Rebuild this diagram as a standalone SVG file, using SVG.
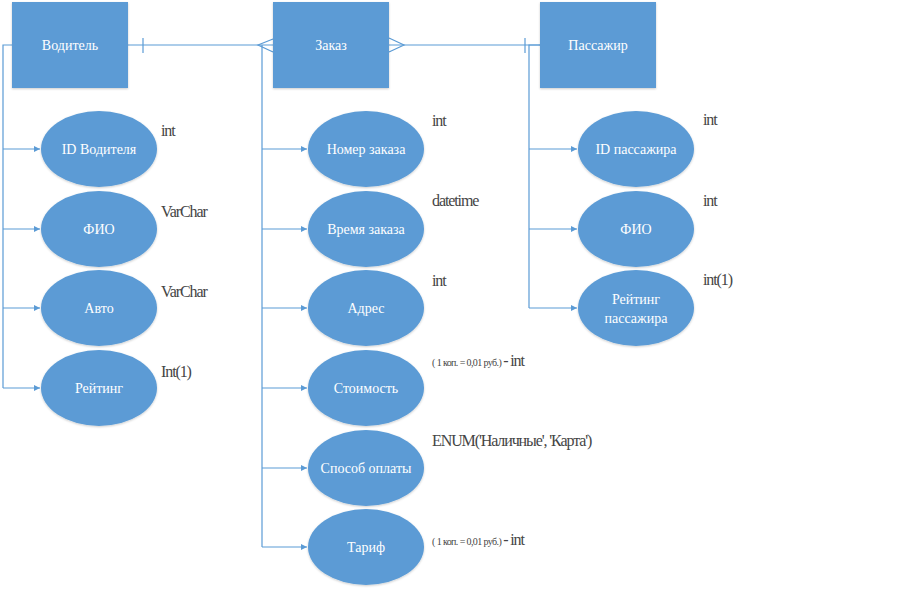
<svg xmlns="http://www.w3.org/2000/svg" width="900" height="593" viewBox="0 0 900 593">
<style>
.ent{fill:#5B9BD5;}
.att{fill:#5B9BD5;}
.lbl{font-family:'Liberation Serif','Times New Roman',serif;font-size:14px;fill:#ffffff;text-anchor:middle;dominant-baseline:central;}
.typ{font-family:'Liberation Serif','Times New Roman',serif;font-size:16px;fill:#454545;letter-spacing:-1.1px;}
.sm{font-size:10px;letter-spacing:-0.6px;}
.ln{stroke:#5B9BD5;stroke-width:1.2;fill:none;}
</style>
<defs>
<marker id="arr" viewBox="0 0 10 10" refX="10" refY="5" markerWidth="6" markerHeight="6" orient="auto" markerUnits="userSpaceOnUse">
<path d="M0,0 L10,5 L0,10 z" fill="#5B9BD5"/>
</marker>
<filter id="sh" x="-10%" y="-10%" width="120%" height="125%">
<feDropShadow dx="0" dy="1" stdDeviation="1.2" flood-color="#000" flood-opacity="0.2"/>
</filter>
</defs>
<rect width="900" height="593" fill="#ffffff"/>

<g id="connectors">
<path class="ln" d="M128,45 H273"/>
<path class="ln" d="M143,38 V53"/>
<path class="ln" d="M273,39 L258,45 L273,52"/>
<path class="ln" d="M389,45 H540"/>
<path class="ln" d="M389,38 L404,45 L389,52"/>
<path class="ln" d="M525,38 V53"/>
<path class="ln" d="M12,45 H3 V388"/>
<path class="ln" d="M3,149 H40" marker-end="url(#arr)"/>
<path class="ln" d="M3,229 H40" marker-end="url(#arr)"/>
<path class="ln" d="M3,308 H40" marker-end="url(#arr)"/>
<path class="ln" d="M3,388 H40" marker-end="url(#arr)"/>
<path class="ln" d="M262,45 V547"/>
<path class="ln" d="M262,149 H307" marker-end="url(#arr)"/>
<path class="ln" d="M262,229 H307" marker-end="url(#arr)"/>
<path class="ln" d="M262,308 H307" marker-end="url(#arr)"/>
<path class="ln" d="M262,388 H307" marker-end="url(#arr)"/>
<path class="ln" d="M262,468 H307" marker-end="url(#arr)"/>
<path class="ln" d="M262,547 H307" marker-end="url(#arr)"/>
<path class="ln" d="M540,45 H529 V308"/>
<path class="ln" d="M529,149 H577" marker-end="url(#arr)"/>
<path class="ln" d="M529,229 H577" marker-end="url(#arr)"/>
<path class="ln" d="M529,308 H577" marker-end="url(#arr)"/>
</g>

<g id="driver"><rect class="ent" x="12" y="2" width="116" height="86" filter="url(#sh)"/><text class="lbl" x="70" y="45">Водитель</text></g>
<g id="order"><rect class="ent" x="273" y="2" width="116" height="86" filter="url(#sh)"/><text class="lbl" x="331" y="45">Заказ</text></g>
<g id="passenger"><rect class="ent" x="540" y="2" width="116" height="86" filter="url(#sh)"/><text class="lbl" x="598" y="45">Пассажир</text></g>

<g id="driver-id"><ellipse class="att" cx="99" cy="149" rx="58" ry="38" filter="url(#sh)"/><text class="lbl" x="99" y="149">ID Водителя</text><text class="typ" x="161" y="136">int</text></g>
<g id="driver-fio"><ellipse class="att" cx="99" cy="229" rx="58" ry="38" filter="url(#sh)"/><text class="lbl" x="99" y="229">ФИО</text><text class="typ" x="161" y="217">VarChar</text></g>
<g id="driver-auto"><ellipse class="att" cx="99" cy="308" rx="58" ry="38" filter="url(#sh)"/><text class="lbl" x="99" y="308">Авто</text><text class="typ" x="161" y="297">VarChar</text></g>
<g id="driver-rating"><ellipse class="att" cx="99" cy="388" rx="58" ry="38" filter="url(#sh)"/><text class="lbl" x="99" y="388">Рейтинг</text><text class="typ" x="161" y="377">Int(1)</text></g>

<g id="order-num"><ellipse class="att" cx="366" cy="149" rx="58" ry="38" filter="url(#sh)"/><text class="lbl" x="366" y="149">Номер заказа</text><text class="typ" x="432" y="126">int</text></g>
<g id="order-time"><ellipse class="att" cx="366" cy="229" rx="58" ry="38" filter="url(#sh)"/><text class="lbl" x="366" y="229">Время заказа</text><text class="typ" x="432" y="206">datetime</text></g>
<g id="order-addr"><ellipse class="att" cx="366" cy="308" rx="58" ry="38" filter="url(#sh)"/><text class="lbl" x="366" y="308">Адрес</text><text class="typ" x="432" y="286">int</text></g>
<g id="order-cost"><ellipse class="att" cx="366" cy="388" rx="58" ry="38" filter="url(#sh)"/><text class="lbl" x="366" y="388">Стоимость</text><text class="typ" x="432" y="366"><tspan class="sm">( 1 коп. = 0,01 руб.) </tspan>- int</text></g>
<g id="order-pay"><ellipse class="att" cx="366" cy="468" rx="58" ry="38" filter="url(#sh)"/><text class="lbl" x="366" y="468">Способ оплаты</text><text class="typ" x="432" y="446">ENUM('Наличные', 'Карта')</text></g>
<g id="order-tariff"><ellipse class="att" cx="366" cy="547" rx="58" ry="38" filter="url(#sh)"/><text class="lbl" x="366" y="547">Тариф</text><text class="typ" x="432" y="545"><tspan class="sm">( 1 коп. = 0,01 руб.) </tspan>- int</text></g>

<g id="pass-id"><ellipse class="att" cx="636" cy="149" rx="58" ry="38" filter="url(#sh)"/><text class="lbl" x="636" y="149">ID пассажира</text><text class="typ" x="703" y="125">int</text></g>
<g id="pass-fio"><ellipse class="att" cx="636" cy="229" rx="58" ry="38" filter="url(#sh)"/><text class="lbl" x="636" y="229">ФИО</text><text class="typ" x="703" y="206">int</text></g>
<g id="pass-rating"><ellipse class="att" cx="636" cy="308" rx="58" ry="38" filter="url(#sh)"/><text class="lbl" x="636" y="299">Рейтинг</text><text class="lbl" x="636" y="318">пассажира</text><text class="typ" x="703" y="285">int(1)</text></g>
</svg>
